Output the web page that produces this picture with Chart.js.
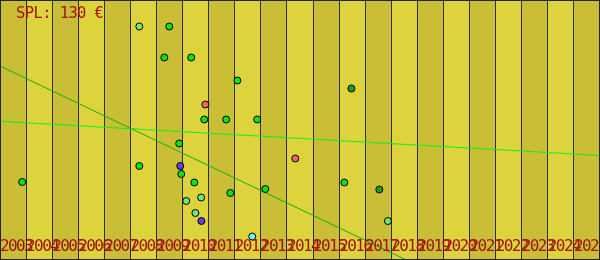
<!DOCTYPE html>
<html>
<head>
<meta charset="utf-8">
<script src="https://cdn.jsdelivr.net/npm/chart.js@4"></script>
<style>
  html, body { margin: 0; padding: 0; background: #fff; }
  #wrap { width: 600px; height: 260px; }
</style>
</head>
<body>
<div id="wrap"><canvas id="chart" width="600" height="260"></canvas></div>
<script>
const title = 'SPL: 130 €'
const years = [2003, 2004, 2005, 2006, 2007, 2008, 2009, 2010, 2011, 2012, 2013, 2014, 2015, 2016, 2017, 2018, 2019, 2020, 2021, 2022, 2023, 2024, 2025]

const greenX = [2003.35, 2008.99, 2008.80, 2009.83, 2011.60, 2010.33, 2011.17, 2012.36, 2009.37, 2007.84, 2009.45, 2009.95, 2015.70, 2012.67, 2011.33]
const greenY = [78, 233.5, 202.5, 202.5, 179.5, 140.5, 140.5, 140.5, 116.5, 94, 86, 77.5, 77.5, 71, 67]
const lightX = [2007.84, 2009.64, 2010.21, 2009.99, 2017.37]
const lightY = [233.5, 59, 62.5, 47, 39]
const redX = [2010.37, 2013.82]
const redY = [155.5, 101.5]
const purpleX = [2009.41, 2010.22]
const purpleY = [94, 39]
const darkX = [2015.97, 2017.04]
const darkY = [171.5, 70.5]
const cyanX = [2012.17]
const cyanY = [23.5]

// trend lines, ends at the outer edges of the first and last year
const trendX = [2002.5, 2025.5]
const steepY = [194, -92.4]
const flatY = [138.7, 104.5]

function pts(xs, ys) {
  return xs.map((x, i) => ({ x: x, y: ys[i] }))
}

function dots(xs, ys, color) {
  return {
    data: pts(xs, ys),
    backgroundColor: color,
    borderColor: '#000',
    borderWidth: 1,
    pointRadius: 3.5,
    order: 0
  }
}

function trend(ys, color) {
  return {
    type: 'line',
    data: pts(trendX, ys),
    borderColor: color,
    borderWidth: 1,
    pointRadius: 0,
    fill: false,
    order: 1
  }
}

const columns = {
  id: 'columns',
  beforeDatasetsDraw(chart) {
    const ctx = chart.ctx
    const x = chart.scales.x
    const area = chart.chartArea
    ctx.save()
    years.forEach((yr, i) => {
      const a = Math.floor(x.getPixelForValue(yr - 0.5))
      const b = Math.floor(x.getPixelForValue(yr + 0.5))
      ctx.fillStyle = i % 2 === 0 ? '#c9be35' : '#ddd33d'
      ctx.fillRect(a, area.top, b - a, area.bottom - area.top)
    })
    ctx.strokeStyle = '#2e2e3a'
    ctx.lineWidth = 1
    years.forEach((yr) => {
      const a = Math.floor(x.getPixelForValue(yr - 0.5)) + 0.5
      ctx.beginPath()
      ctx.moveTo(a, area.top)
      ctx.lineTo(a, area.bottom)
      ctx.stroke()
    })
    ctx.restore()
  },
  afterDraw(chart) {
    const ctx = chart.ctx
    const x = chart.scales.x
    ctx.save()
    ctx.fillStyle = '#a31515'
    ctx.textBaseline = 'alphabetic'
    ctx.textAlign = 'left'
    ctx.font = '16px "DejaVu Sans Mono"'
    ctx.letterSpacing = '-1.6px'
    years.forEach((yr) => {
      ctx.fillText(String(yr), x.getPixelForValue(yr - 0.5), 251)
    })
    ctx.letterSpacing = '-0.6px'
    ctx.font = '15.5px "DejaVu Sans Mono"'
    ctx.fillText(title, 16, 17.5)
    ctx.letterSpacing = '0px'
    ctx.strokeStyle = '#222'
    ctx.lineWidth = 1
    ctx.strokeRect(0.5, 0.5, chart.width - 1, chart.height - 1)
    ctx.restore()
  }
}

new Chart(document.getElementById('chart'), {
  type: 'scatter',
  data: {
    datasets: [
      dots(greenX, greenY, '#12e012'),
      dots(lightX, lightY, '#72e872'),
      dots(redX, redY, '#f06666'),
      dots(purpleX, purpleY, '#6242e6'),
      dots(darkX, darkY, '#1c9e1c'),
      dots(cyanX, cyanY, '#74eefc'),
      trend(steepY, '#10b010'),
      trend(flatY, '#12f012')
    ]
  },
  options: {
    responsive: false,
    animation: false,
    layout: { padding: 0, autoPadding: false },
    plugins: {
      legend: { display: false },
      tooltip: { enabled: false }
    },
    scales: {
      x: { type: 'linear', min: 2002.5, max: 2025.5, display: false },
      y: { type: 'linear', min: 0, max: 260, display: false }
    }
  },
  plugins: [columns]
})
</script>
</body>
</html>
